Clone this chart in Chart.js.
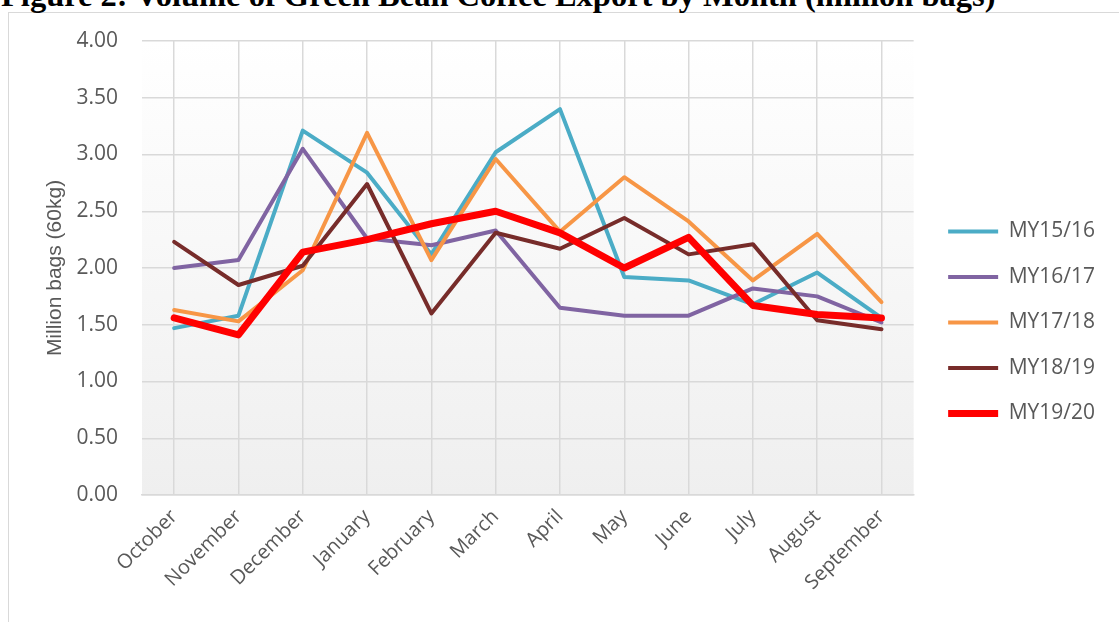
<!DOCTYPE html>
<html>
<head>
<meta charset="utf-8">
<script src="https://cdn.jsdelivr.net/npm/chart.js@4"></script>
<style>
  html, body { margin: 0; padding: 0; background: #ffffff; overflow: hidden; }
  #wrap { position: relative; width: 1119px; height: 622px; overflow: hidden; }
  #title { position: absolute; left: 1px; top: -25px; font-family: "Liberation Serif", "Times New Roman", serif; font-weight: bold; font-size: 32.5px; color: #000; white-space: nowrap; line-height: 40px; }
  #frame { position: absolute; left: 8px; top: 12px; width: 1200px; height: 700px; border-left: 1.5px solid #d9d9d9; border-top: 1.5px solid #d9d9d9; }
  #c { position: absolute; left: 0; top: 0; }
</style>
</head>
<body>
<div id="wrap">
  <div id="frame"></div>
  <div id="title">Figure 2: Volume of Green Bean Coffee Export by Month (million bags)</div>
  <canvas id="c" width="1119" height="622"></canvas>
</div>
<script>
const months = ["October","November","December","January","February","March","April","May","June","July","August","September"];
const seriesNames = ["MY15/16","MY16/17","MY17/18","MY18/19","MY19/20"];
const my1516 = [1.47, 1.58, 3.21, 2.84, 2.12, 3.02, 3.40, 1.92, 1.89, 1.68, 1.96, 1.56];
const my1617 = [2.00, 2.07, 3.05, 2.26, 2.20, 2.33, 1.65, 1.58, 1.58, 1.82, 1.75, 1.52];
const my1718 = [1.63, 1.53, 1.98, 3.19, 2.07, 2.96, 2.32, 2.80, 2.41, 1.89, 2.30, 1.70];
const my1819 = [2.23, 1.85, 2.02, 2.74, 1.60, 2.31, 2.17, 2.44, 2.12, 2.21, 1.54, 1.46];
const my1920 = [1.56, 1.41, 2.14, 2.25, 2.39, 2.50, 2.31, 2.00, 2.27, 1.67, 1.59, 1.56];
const yTickLabels = ["0.00","0.50","1.00","1.50","2.00","2.50","3.00","3.50","4.00"];

const colors = ["#4BACC6", "#8064A2", "#F79646", "#772C2A", "#FF0000"];
const widths = [4, 4, 4, 4, 7];
const values = [my1516, my1617, my1718, my1819, my1920];

const plotBg = {
  id: 'plotBg',
  beforeDraw(chart) {
    const {ctx, chartArea: a} = chart;
    const g = ctx.createLinearGradient(0, a.top, 0, a.bottom);
    g.addColorStop(0, '#ffffff');
    g.addColorStop(1, '#efefef');
    ctx.save();
    ctx.fillStyle = g;
    ctx.fillRect(a.left, a.top, a.right - a.left, a.bottom - a.top);
    ctx.restore();
  }
};
const legendShift = {
  id: 'legendShift',
  afterLayout(chart) {
    const l = chart.legend;
    if (!l) return;
    l.left += 10; l.right += 10;
    l.top -= 9; l.bottom -= 9;
  }
};

new Chart(document.getElementById('c'), {
  type: 'line',
  data: {
    labels: months,
    datasets: values.map((v, i) => ({
      label: seriesNames[i],
      data: v,
      borderColor: colors[i],
      backgroundColor: colors[i],
      borderWidth: widths[i],
      borderCapStyle: 'round',
      borderJoinStyle: 'round',
      pointRadius: 0,
      pointHoverRadius: 0,
      tension: 0,
      fill: false,
      order: 5 - i
    }))
  },
  options: {
    responsive: false,
    animation: false,
    devicePixelRatio: 1,
    layout: { padding: { top: 41, right: 24, bottom: 0, left: 0 } },
    plugins: {
      title: { display: false },
      tooltip: { enabled: false },
      legend: {
        position: 'right',
        labels: {
          usePointStyle: true,
          pointStyle: 'line',
          pointStyleWidth: 50,
          padding: 24.5,
          color: '#595959',
          font: { family: 'Open Sans', size: 21 },
          sort: (a, b) => a.datasetIndex - b.datasetIndex
        }
      }
    },
    scales: {
      x: {
        offset: true,
        grid: { offset: false, color: '#d9d9d9', lineWidth: 1.5, drawTicks: false },
        border: { display: true, color: '#d9d9d9', width: 1.5 },
        ticks: {
          minRotation: 45, maxRotation: 45, autoSkip: false, padding: 10,
          color: '#595959', font: { family: 'Open Sans', size: 20 }
        },
        afterFit(s) { s.height = 127; }
      },
      y: {
        min: 0, max: 4,
        grid: { color: '#d9d9d9', lineWidth: 1.5, drawTicks: false },
        border: { display: false },
        ticks: {
          stepSize: 0.5, padding: 24,
          color: '#595959', font: { family: 'Open Sans', size: 21 },
          callback: (v, i) => yTickLabels[i]
        },
        title: {
          display: true, text: 'Million bags (60kg)', color: '#595959',
          font: { family: 'Liberation Sans', size: 21 }, padding: { top: 43, bottom: 0 }
        },
        afterFit(s) { s.width = 142; }
      }
    }
  },
  plugins: [plotBg, legendShift]
});
</script>
</body>
</html>
